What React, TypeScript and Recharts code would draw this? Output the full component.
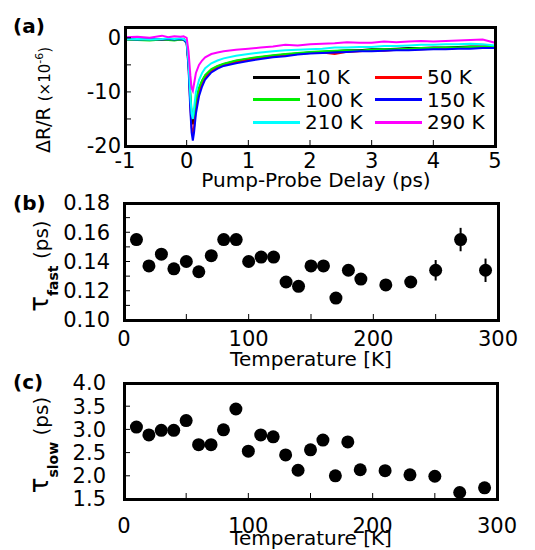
import React from "react";
import {
  LineChart,
  Line,
  ScatterChart,
  Scatter,
  ErrorBar,
  XAxis,
  YAxis,
} from "recharts";

const FONT = "DejaVu Sans";

// (a) pump-probe traces, delay in ps, dR/R in 1e-6
const delay = [-1, -0.8, -0.6, -0.4, -0.3, -0.2, -0.1, -0.05, 0, 0.03, 0.06, 0.08, 0.1, 0.12, 0.15, 0.2, 0.25, 0.3, 0.4, 0.5, 0.6, 0.8, 1.0, 1.2, 1.4, 1.6, 1.8, 2.0, 2.2, 2.4, 2.6, 2.8, 3.0, 3.2, 3.4, 3.6, 3.8, 4.0, 4.2, 4.4, 4.6, 4.8, 5.0];
const trace10K = [-0.3, -0.2, -0.3, -0.4, -0.2, -0.3, -0.2, -0.3, -0.8, -4.5, -11, -14.5, -16, -15, -12, -9.5, -8.0, -7.0, -5.9, -5.3, -4.9, -4.3, -3.9, -3.6, -3.3, -3.1, -2.9, -2.7, -2.6, -2.5, -2.3, -2.3, -2.1, -2.1, -2.0, -1.9, -1.9, -1.8, -1.8, -1.7, -1.6, -1.6, -1.5];
const trace50K = [-0.4, -0.3, -0.2, -0.4, -0.3, -0.2, -0.3, -0.2, -0.9, -5, -12.5, -16.5, -18, -16.5, -13, -10, -8.4, -7.3, -6.1, -5.4, -5.0, -4.5, -4.1, -3.7, -3.5, -3.2, -3.0, -2.8, -2.7, -3.0, -2.6, -2.5, -2.3, -2.4, -2.2, -2.1, -2.1, -2.0, -2.0, -1.9, -1.8, -1.9, -1.7];
const trace100K = [-0.3, -0.4, -0.5, -0.3, -0.4, -0.5, -0.3, -0.4, -0.9, -4.5, -10.5, -13.5, -15, -14, -11.5, -9.2, -7.9, -6.9, -5.8, -5.2, -4.8, -4.2, -3.8, -3.5, -3.2, -3.0, -2.8, -2.6, -2.5, -2.4, -2.3, -2.4, -2.2, -2.1, -2.1, -2.0, -1.9, -1.9, -1.8, -1.8, -1.7, -1.7, -1.6];
const trace150K = [-0.2, -0.3, -0.2, -0.3, -0.2, -0.3, -0.2, -0.3, -1.0, -5.5, -13.5, -17.5, -19, -17.5, -14, -10.8, -9.0, -7.7, -6.4, -5.7, -5.2, -4.7, -4.3, -3.9, -3.6, -3.4, -3.1, -2.9, -2.8, -2.7, -2.6, -2.5, -2.5, -2.4, -2.3, -2.3, -2.2, -2.1, -2.1, -2.0, -2.0, -1.9, -1.9];
const trace210K = [-0.3, -0.2, -0.3, -0.2, -0.1, -0.2, -0.1, -0.2, -0.6, -4.5, -11, -14, -15, -13, -10, -7.8, -6.5, -5.6, -4.7, -4.2, -3.8, -3.3, -3.0, -2.7, -2.5, -2.3, -2.2, -2.1, -2.0, -1.8, -1.8, -1.7, -1.7, -1.5, -1.5, -1.4, -1.3, -1.3, -1.2, -1.2, -1.1, -1.2, -1.4];
const trace290K = [0.1, 0.2, 0.0, 0.4, 0.1, 0.3, 0.2, 0.3, 0.0, -2.5, -7, -9.3, -9.8, -8.5, -6.5, -5.0, -4.2, -3.6, -3.0, -2.7, -2.5, -2.2, -2.0, -1.8, -1.6, -1.3, -1.4, -1.2, -1.1, -1.0, -0.8, -0.9, -0.9, -0.7, -0.8, -0.7, -0.6, -0.7, -0.6, -0.5, -0.4, -0.3, -0.9];

const traces = [
  { key: "k10", name: "10 K", color: "#000000", values: trace10K },
  { key: "k50", name: "50 K", color: "#ff0000", values: trace50K },
  { key: "k100", name: "100 K", color: "#00ee00", values: trace100K },
  { key: "k150", name: "150 K", color: "#0000ff", values: trace150K },
  { key: "k210", name: "210 K", color: "#00ffff", values: trace210K },
  { key: "k290", name: "290 K", color: "#ff00ff", values: trace290K },
];

// (b), (c) fit results vs temperature
const temps = [10, 20, 30, 40, 50, 60, 70, 80, 90, 100, 110, 120, 130, 140, 150, 160, 170, 180, 190, 210, 230, 250, 270, 290];
const tauFast = [0.155, 0.137, 0.145, 0.135, 0.14, 0.133, 0.144, 0.155, 0.155, 0.14, 0.143, 0.143, 0.126, 0.123, 0.137, 0.137, 0.115, 0.134, 0.128, 0.124, 0.126, 0.134, 0.155, 0.134];
const tauFastErr = [0.004, 0.003, 0.003, 0.003, 0.003, 0.003, 0.003, 0.003, 0.003, 0.003, 0.003, 0.003, 0.003, 0.003, 0.003, 0.003, 0.003, 0.003, 0.004, 0.004, 0.004, 0.007, 0.008, 0.008];
const tauSlow = [3.05, 2.88, 2.98, 2.98, 3.19, 2.67, 2.67, 2.99, 3.44, 2.53, 2.88, 2.84, 2.45, 2.12, 2.56, 2.77, 2.0, 2.73, 2.13, 2.11, 2.02, 1.99, 1.64, 1.74];

// ticks
const delayTicks = [-1, 0, 1, 2, 3, 4, 5];
const signalTicks = [-20, -15, -10, -5, 0];
const tempTicks = [0, 50, 100, 150, 200, 250, 300];
const fastTicks = [0.1, 0.11, 0.12, 0.13, 0.14, 0.15, 0.16, 0.17, 0.18];
const slowTicks = [1.5, 2.0, 2.5, 3.0, 3.5, 4.0];

const traceData = delay.map((t, i) => {
  const row: any = { t };
  traces.forEach((tr) => (row[tr.key] = tr.values[i]));
  return row;
});
const fastData = temps.map((T, i) => ({ T, tau: tauFast[i], err: tauFastErr[i] }));
const slowData = temps.map((T, i) => ({ T, tau: tauSlow[i] }));

// layout: each panel is a 535x190 chart, plot box in chart-local pixels
const W = 535;
const H = 190;
const panels = {
  a: { offset: 0, top: 27, bottom: 146, left: 125, right: 495 },
  b: { offset: 180, top: 23, bottom: 140, left: 124, right: 498 },
  c: { offset: 360, top: 23, bottom: 139, left: 124, right: 497 },
};
type Box = typeof panels.a;

const marginOf = (b: Box) => ({ top: b.top, right: W - b.right, bottom: 0, left: 0 });

const tickStyle = { fontSize: 21, fill: "#000", fontFamily: FONT };

const Dot = (props: any) => <circle cx={props.cx} cy={props.cy} r={6.5} fill="#000" />;

const text = { fontFamily: FONT, fill: "#000" };

export default function App() {
  const { a, b, c } = panels;
  return (
    <div style={{ position: "absolute", left: 0, top: 0, width: W, height: 550, background: "#fff" }}>
      <div style={{ position: "absolute", left: 0, top: a.offset }}>
        <LineChart width={W} height={H} data={traceData} margin={marginOf(a)}>
          <XAxis
            dataKey="t"
            type="number"
            domain={[-1, 5]}
            ticks={delayTicks}
            interval={0}
            height={H - a.bottom}
            tick={tickStyle}
            stroke="#000"
            tickSize={-6}
            tickMargin={13}
          />
          <YAxis
            type="number"
            domain={[-20, 2]}
            ticks={signalTicks}
            interval={0}
            width={a.left}
            tick={tickStyle}
            tickFormatter={(v: number) => (v % 10 === 0 ? String(v) : "")}
            stroke="#000"
            tickSize={-6}
            tickMargin={10}
          />
          {traces.map((tr) => (
            <Line
              key={tr.key}
              dataKey={tr.key}
              name={tr.name}
              stroke={tr.color}
              strokeWidth={2}
              dot={false}
              type="linear"
              isAnimationActive={false}
            />
          ))}
        </LineChart>
      </div>

      {/* legend of panel (a) */}
      <div
        style={{
          position: "absolute",
          left: 253,
          top: 66,
          display: "grid",
          gridTemplateColumns: "122px 110px",
          fontFamily: FONT,
          fontSize: 20,
          lineHeight: "22.5px",
          color: "#000",
        }}
      >
        {traces.map((tr) => (
          <div key={tr.key} style={{ display: "flex", alignItems: "center" }}>
            <span style={{ width: 47, height: 3, background: tr.color, marginRight: 5 }} />
            {tr.name}
          </div>
        ))}
      </div>

      <div style={{ position: "absolute", left: 0, top: b.offset }}>
        <ScatterChart width={W} height={H} margin={marginOf(b)}>
          <XAxis
            dataKey="T"
            type="number"
            domain={[0, 300]}
            ticks={tempTicks}
            interval={0}
            height={H - b.bottom}
            tick={tickStyle}
            tickFormatter={(v: number) => (v % 100 === 0 ? String(v) : "")}
            stroke="#000"
            tickSize={-6}
            tickMargin={17}
          />
          <YAxis
            dataKey="tau"
            type="number"
            domain={[0.1, 0.18]}
            ticks={fastTicks}
            interval={0}
            width={b.left}
            tick={tickStyle}
            tickFormatter={(v: number) => (Math.round(v * 100) % 2 === 0 ? v.toFixed(2) : "")}
            stroke="#000"
            tickSize={-6}
            tickMargin={20}
          />
          <Scatter data={fastData} shape={Dot} isAnimationActive={false}>
            <ErrorBar dataKey="err" direction="y" width={0} stroke="#000" strokeWidth={2} />
          </Scatter>
        </ScatterChart>
      </div>

      <div style={{ position: "absolute", left: 0, top: c.offset }}>
        <ScatterChart width={W} height={H} margin={marginOf(c)}>
          <XAxis
            dataKey="T"
            type="number"
            domain={[0, 300]}
            ticks={tempTicks}
            interval={0}
            height={H - c.bottom}
            tick={tickStyle}
            tickFormatter={(v: number) => (v % 100 === 0 ? String(v) : "")}
            stroke="#000"
            tickSize={-6}
            tickMargin={25}
          />
          <YAxis
            dataKey="tau"
            type="number"
            domain={[1.5, 4.0]}
            ticks={slowTicks}
            interval={0}
            width={c.left}
            tick={tickStyle}
            tickFormatter={(v: number) => v.toFixed(1)}
            stroke="#000"
            tickSize={-6}
            tickMargin={24}
          />
          <Scatter data={slowData} shape={Dot} isAnimationActive={false} />
        </ScatterChart>
      </div>

      {/* plot frames as plain bordered boxes */}
      {[a, b, c].map((p, i) => (
        <div
          key={i}
          style={{
            position: "absolute",
            left: p.left - 1.5,
            top: p.offset + p.top - 1.5,
            width: p.right - p.left + 3,
            height: p.bottom - p.top + 3,
            border: "3px solid #000",
            boxSizing: "border-box",
            pointerEvents: "none",
          }}
        />
      ))}

      {/* panel letters and axis titles */}
      <svg width={W} height={550} style={{ position: "absolute", left: 0, top: 0, pointerEvents: "none" }}>
        <text x={13} y={33} fontSize={20} fontWeight="bold" {...text}>(a)</text>
        <text x={13} y={210} fontSize={20} fontWeight="bold" {...text}>(b)</text>
        <text x={13} y={389} fontSize={20} fontWeight="bold" {...text}>(c)</text>

        <text x={316} y={187} fontSize={20} textAnchor="middle" {...text}>Pump-Probe Delay (ps)</text>
        <text x={311} y={366} fontSize={20} textAnchor="middle" {...text}>Temperature [K]</text>
        <text x={311} y={545} fontSize={20} textAnchor="middle" {...text}>Temperature [K]</text>

        <text transform="translate(50,100) rotate(-90)" textAnchor="middle" {...text}>
          <tspan fontSize={19}>ΔR/R </tspan>
          <tspan fontSize={15}>(×10</tspan>
          <tspan fontSize={11} dy={-7}>-6</tspan>
          <tspan fontSize={15} dy={7}>)</tspan>
        </text>
        <text transform="translate(48,266) rotate(-90)" textAnchor="middle" {...text}>
          <tspan fontSize={26}>τ</tspan>
          <tspan fontSize={14} fontWeight="bold" dy={10}>fast</tspan>
          <tspan fontSize={20} dy={-10}> (ps)</tspan>
        </text>
        <text transform="translate(48,445) rotate(-90)" textAnchor="middle" {...text}>
          <tspan fontSize={26}>τ</tspan>
          <tspan fontSize={14} fontWeight="bold" dy={10}>slow</tspan>
          <tspan fontSize={20} dy={-10}> (ps)</tspan>
        </text>
      </svg>
    </div>
  );
}
